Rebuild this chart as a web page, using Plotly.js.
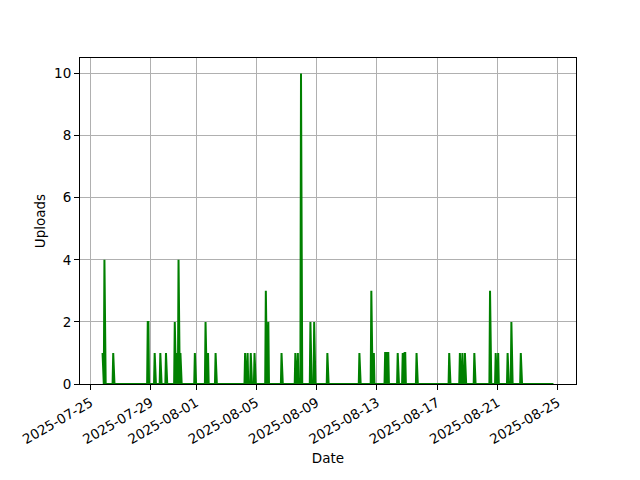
<!DOCTYPE html>
<html>
<head>
<meta charset="utf-8">
<script src="https://cdn.plot.ly/plotly-3.0.1.min.js"></script>
<style>html,body{margin:0;padding:0;background:#fff;}#chart{width:640px;height:480px;}</style>
</head>
<body>
<div id="chart"></div>
<script>
// Hourly upload counts (non-zero hours); all other hours in the range are 0
const seriesStart = "2025-07-25 19:00";
const seriesEnd = "2025-08-24 17:00";
const uploadTimes = [
  "2025-07-25 19:00","2025-07-25 22:00","2025-07-26 12:00","2025-07-28 19:00","2025-07-28 20:00",
  "2025-07-29 06:00","2025-07-29 15:00","2025-07-30 00:00","2025-07-30 14:00","2025-07-30 17:00",
  "2025-07-30 20:00","2025-07-30 23:00","2025-07-31 22:00","2025-08-01 15:00","2025-08-01 19:00",
  "2025-08-02 07:00","2025-08-04 06:00","2025-08-04 10:00","2025-08-04 15:00","2025-08-04 21:00",
  "2025-08-05 15:00","2025-08-05 19:00","2025-08-06 16:00","2025-08-07 14:00","2025-08-07 18:00",
  "2025-08-07 23:00","2025-08-08 14:00","2025-08-08 20:00","2025-08-09 17:00","2025-08-11 20:00",
  "2025-08-12 15:00","2025-08-12 19:00","2025-08-13 13:00","2025-08-13 14:00","2025-08-13 17:00",
  "2025-08-13 18:00","2025-08-14 09:00","2025-08-14 17:00","2025-08-14 20:00","2025-08-14 21:00",
  "2025-08-15 15:00","2025-08-17 19:00","2025-08-18 12:00","2025-08-18 16:00","2025-08-18 20:00",
  "2025-08-19 11:00","2025-08-20 12:00","2025-08-20 21:00","2025-08-21 01:00","2025-08-21 16:00",
  "2025-08-21 22:00","2025-08-22 13:00"
];
const uploadCounts = [
  1,4,1,2,2,
  1,1,1,2,1,
  4,1,1,2,1,
  1,1,1,1,1,
  3,2,1,1,1,
  10,2,2,1,1,
  3,1,1,1,1,
  1,1,1,1,1,
  1,1,1,1,1,
  1,3,1,1,1,
  2,1
];
const tickDates = ["2025-07-25","2025-07-29","2025-08-01","2025-08-05","2025-08-09","2025-08-13","2025-08-17","2025-08-21","2025-08-25"];
const yTicks = [0,2,4,6,8,10];

function toMs(s){ return Date.parse(s.replace(" ","T")+":00Z"); }
function fmt(ms){ const d=new Date(ms).toISOString(); return d.slice(0,10)+" "+d.slice(11,16); }

const countMap = {};
uploadTimes.forEach((t,i)=>{ countMap[toMs(t)] = uploadCounts[i]; });
const xs=[], ys=[];
const H=3600000;
for(let m=toMs(seriesStart); m<=toMs(seriesEnd); m+=H){
  xs.push(fmt(m)); ys.push(countMap[m]||0);
}
const span = toMs(seriesEnd)-toMs(seriesStart);
const xr=[fmt(toMs(seriesStart)-0.05*span), fmt(toMs(seriesEnd)+0.05*span)];

const font = {family:"DejaVu Sans, sans-serif", size:13.5, color:"#000"};
Plotly.newPlot("chart",[{
  x:xs, y:ys, type:"scatter", mode:"lines",
  line:{color:"#008000", width:2}, hoverinfo:"x+y"
}],{
  width:640, height:480,
  margin:{l:80, r:64, t:58, b:96},
  paper_bgcolor:"#fff", plot_bgcolor:"#fff",
  font:font, showlegend:false,
  xaxis:{
    type:"date", range:xr, tickvals:tickDates, ticktext:tickDates, tickangle:-30,
    showgrid:true, gridcolor:"#b0b0b0", gridwidth:1,
    showline:true, linecolor:"#000", linewidth:1, mirror:true,
    ticks:"outside", ticklen:5, tickcolor:"#000", zeroline:false,
    title:{text:"Date", font:font, standoff:7}, automargin:false
  },
  yaxis:{
    range:[0,10.5], tickvals:yTicks,
    showgrid:true, gridcolor:"#b0b0b0", gridwidth:1,
    showline:true, linecolor:"#000", linewidth:1, mirror:true,
    ticks:"outside", ticklen:5, tickcolor:"#000", zeroline:false,
    title:{text:"Uploads", font:font, standoff:5}, automargin:false
  }
},{displayModeBar:false, staticPlot:true});
</script>
</body>
</html>
